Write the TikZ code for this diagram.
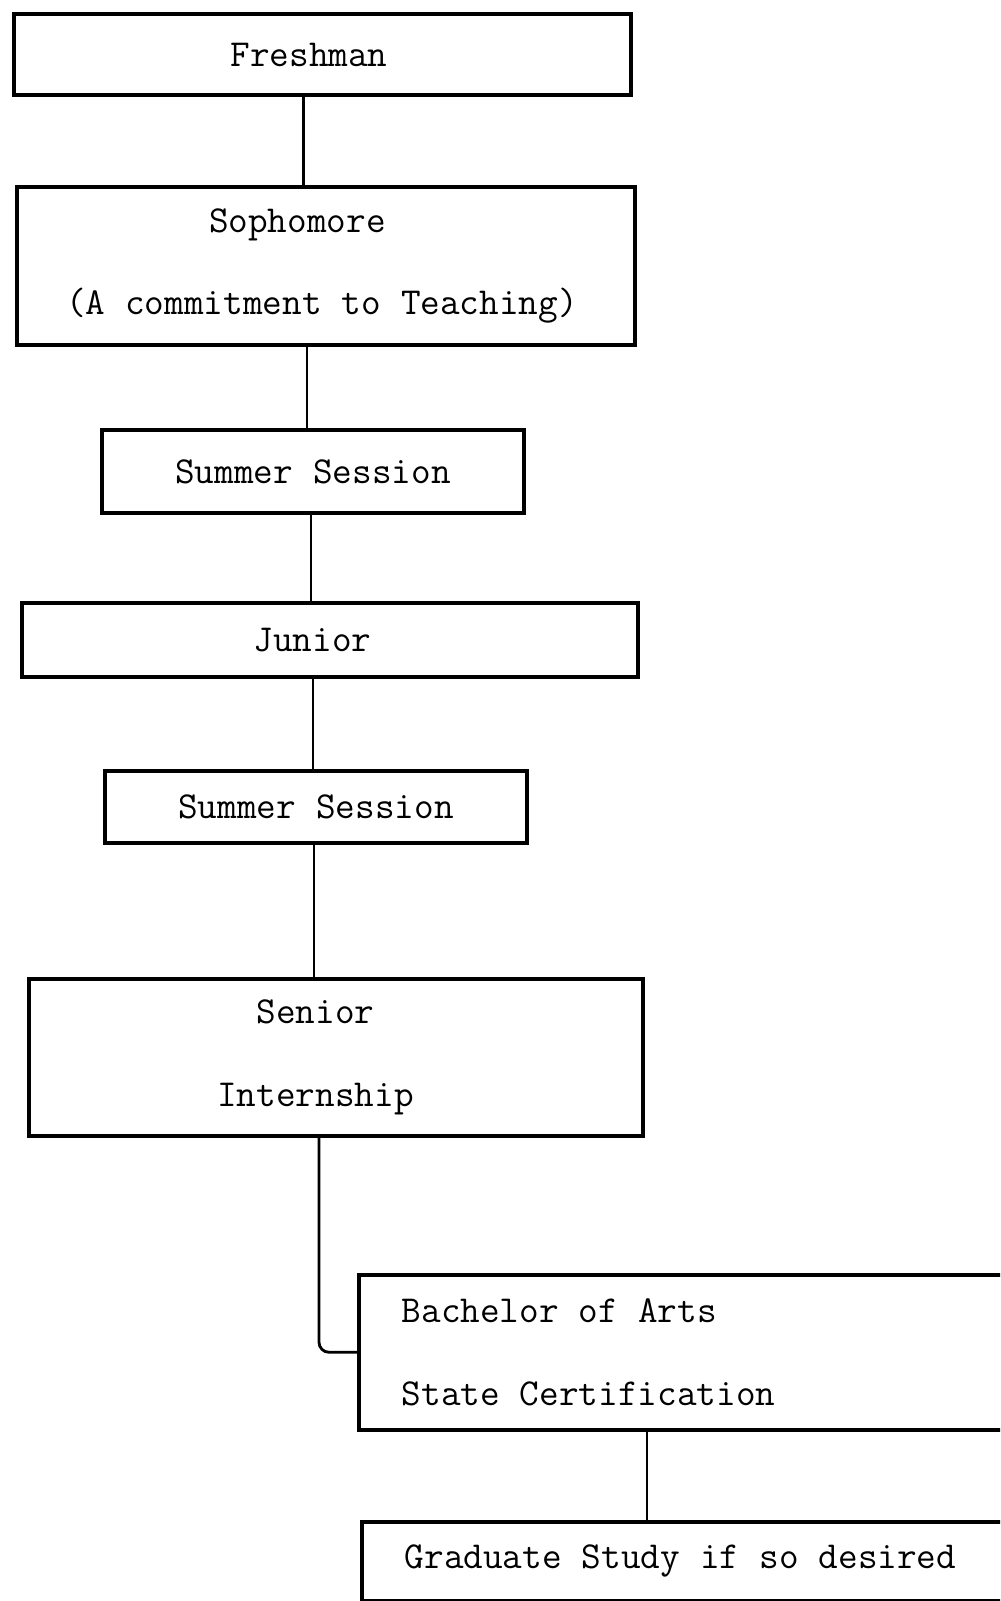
\documentclass[tikz,border=0pt]{standalone}
\usepackage{tikz}
\usetikzlibrary{positioning}
\tikzset{
    %Define style for the year boxes
    yearbox/.style={
           rectangle,
           draw=black, line width=2pt,
           font=\fontsize{21.7pt}{47pt}\selectfont\ttfamily,
           execute at begin node={\spaceskip=11.4pt\relax}},
    %Define style for the boxes that run off the page
    openbox/.style={
           yearbox,
           anchor=north west,
           minimum width=14cm,
           inner xsep=0.86cm,
           text width=12.28cm,
           align=left},
    % Define connector style
    link/.style={
           line width=1.6pt}
}

\begin{document}
\begin{tikzpicture}
        \useasboundingbox (0,0) rectangle (20,-32.02);
        \clip (0,0) rectangle (20,-32.02);
        %nodes

        % Freshman node
        \node[yearbox, minimum width=12.34cm, minimum height=1.62cm]
        (fresh) at (6.45,-1.09)
        {Freshman\hspace*{0.54cm}}
        ;

        % Sophomore node
        \node[yearbox, text width=10.4cm, align=left,
        minimum width=12.36cm, minimum height=3.16cm]
        (soph) at (6.52,-5.32)
        {\hspace*{2.86cm}Sophomore \\ (A commitment to Teaching)}
        ;

        % first summer session node
        \node[yearbox, minimum width=8.44cm, minimum height=1.66cm]
        (summera) at (6.26,-9.43)
        {Summer Session}
        ;

        % Junior node
        \node[yearbox, minimum width=12.32cm, minimum height=1.48cm]
        (junior) at (6.60,-12.80)
        {Junior\hspace*{0.7cm}}
        ;

        % second summer session node
        \node[yearbox, minimum width=8.44cm, minimum height=1.44cm]
        (summerb) at (6.32,-16.14)
        {Summer Session}
        ;

        % Senior node
        \node[yearbox, align=center, minimum width=12.28cm, minimum height=3.14cm]
        (senior) at (6.72,-21.15)
        {Senior\hspace*{0.82cm} \\ Internship\hspace*{0.82cm}}
        ;

        % degree node
        \node[openbox, minimum height=3.10cm]
        (bach) at (7.14,-25.46)
        {Bachelor of Arts \\ State Certification}
        ;

        % graduate study node
        \node[openbox, minimum height=1.58cm]
        (grad) at (7.20,-30.40)
        {Graduate Study if so desired}
        ;

        % Freshman and Sophomore
        \draw[link]
        ([xshift=-0.38cm]fresh.south) -- ([xshift=-0.38cm]fresh.south |- soph.north)
        ;

        % Sophomore and summer session
        \draw[link]
        ([xshift=-0.38cm]soph.south) -- ([xshift=-0.38cm]soph.south |- summera.north)
        ;

        % summer session and Junior
        \draw[link]
        ([xshift=-0.04cm]summera.south) -- ([xshift=-0.04cm]summera.south |- junior.north)
        ;

        % Junior and summer session
        \draw[link]
        ([xshift=-0.34cm]junior.south) -- ([xshift=-0.34cm]junior.south |- summerb.north)
        ;

        % summer session and Senior
        \draw[link]
        ([xshift=-0.04cm]summerb.south) -- ([xshift=-0.04cm]summerb.south |- senior.north)
        ;

        % Senior and degree
        \draw[link, rounded corners=0.2cm]
        ([xshift=-0.34cm]senior.south) |- (bach.west)
        ;

        % degree and graduate study
        \draw[link]
        ([xshift=5.8cm]bach.south west) -- ([xshift=5.8cm]bach.south west |- grad.north)
        ;

    \end{tikzpicture}
\end{document}
